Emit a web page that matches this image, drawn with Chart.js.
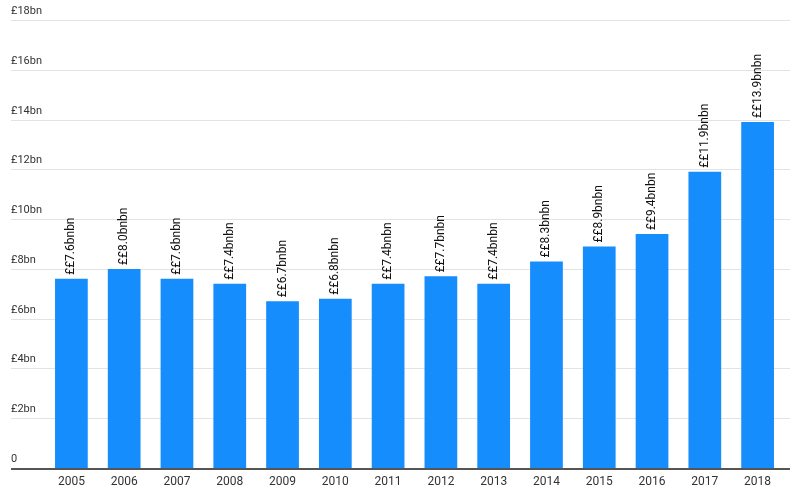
<!DOCTYPE html>
<html>
<head>
<meta charset="utf-8">
<script src="https://cdn.jsdelivr.net/npm/chart.js@4"></script>
<style>
  body { margin: 0; background: #fff; }
  #wrap { width: 796px; height: 492px; }
</style>
</head>
<body>
<div id="wrap"><canvas id="barChart"></canvas></div>
<script>
// data
var years = ["2005", "2006", "2007", "2008", "2009", "2010", "2011", "2012", "2013", "2014", "2015", "2016", "2017", "2018"];
var spend = [7.6, 8.0, 7.6, 7.4, 6.7, 6.8, 7.4, 7.7, 7.4, 8.3, 8.9, 9.4, 11.9, 13.9];
var yTicks = [0, 2, 4, 6, 8, 10, 12, 14, 16, 18];
var yTickLabels = ["0", "£2bn", "£4bn", "£6bn", "£8bn", "£10bn", "£12bn", "£14bn", "£16bn", "£18bn"];

var font = "Roboto, 'Liberation Sans', sans-serif";

// gridlines + y labels across the full width, labels sit above the lines
var gridPlugin = {
  id: 'fullGrid',
  beforeDatasetsDraw: function(chart) {
    var ctx = chart.ctx, y = chart.scales.y;
    var x0 = 11, x1 = 790;
    ctx.save();
    ctx.font = "11px " + font;
    ctx.textBaseline = 'bottom';
    ctx.textAlign = 'left';
    yTicks.forEach(function(v, i) {
      var py = Math.round(y.getPixelForValue(v));
      if (v > 0) {
        ctx.strokeStyle = '#e3e3e3';
        ctx.lineWidth = 1;
        ctx.beginPath();
        ctx.moveTo(x0, py + 0.5);
        ctx.lineTo(x1, py + 0.5);
        ctx.stroke();
      }
      ctx.fillStyle = '#333';
      ctx.fillText(yTickLabels[i], x0, py - 3);
    });
    ctx.restore();
  },
  afterDatasetsDraw: function(chart) {
    var ctx = chart.ctx, y = chart.scales.y;
    var py = Math.round(y.getPixelForValue(0));
    ctx.save();
    ctx.strokeStyle = '#555';
    ctx.lineWidth = 2;
    ctx.beginPath();
    ctx.moveTo(11, py + 1);
    ctx.lineTo(790, py + 1);
    ctx.stroke();
    // value labels, rotated
    var meta = chart.getDatasetMeta(0);
    ctx.font = "12px " + font;
    ctx.fillStyle = '#111';
    ctx.textAlign = 'left';
    ctx.textBaseline = 'middle';
    meta.data.forEach(function(bar, i) {
      ctx.save();
      ctx.translate(bar.x, bar.y - 4);
      ctx.rotate(-Math.PI / 2);
      ctx.fillText("££" + spend[i].toFixed(1) + "bnbn", 0, 0);
      ctx.restore();
    });
    ctx.restore();
  }
};

var ctxB = document.getElementById("barChart").getContext('2d');
var myBarChart = new Chart(ctxB, {
  type: 'bar',
  data: {
    labels: years,
    datasets: [{
      data: spend,
      backgroundColor: '#168dfc',
      borderWidth: 0,
      categoryPercentage: 1,
      barPercentage: 0.62
    }]
  },
  options: {
    responsive: true,
    maintainAspectRatio: false,
    animation: false,
    layout: { padding: { left: 45, right: 12, top: 20, bottom: 0 } },
    plugins: { legend: { display: false }, tooltip: { enabled: false } },
    scales: {
      x: {
        grid: { display: false },
        border: { display: false },
        ticks: { color: '#333', font: { family: font, size: 12 }, padding: -1, maxRotation: 0 },
        afterFit: function(scale) { scale.height = 24; }
      },
      y: {
        min: 0,
        max: 18,
        display: false
      }
    }
  },
  plugins: [gridPlugin]
});
</script>
</body>
</html>
